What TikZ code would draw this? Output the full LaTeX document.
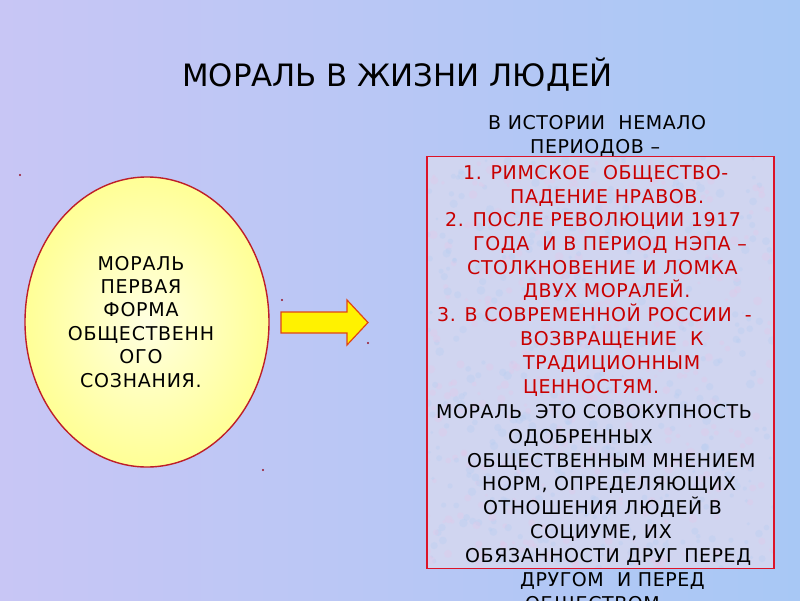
\documentclass[tikz,border=0pt]{standalone}
\usepackage{fontspec}
\setmainfont{DejaVu Sans}
\usetikzlibrary{shapes.geometric}
\definecolor{bgleft}{RGB}{200,198,245}
\definecolor{bgright}{RGB}{168,200,245}
\definecolor{boxfill}{RGB}{208,213,240}
\definecolor{spotpink}{RGB}{230,198,232}
\definecolor{spotblue}{RGB}{180,206,242}
\definecolor{boxred}{RGB}{220,20,40}
\definecolor{txtred}{RGB}{200,0,0}
\definecolor{ellred}{RGB}{190,30,40}
\definecolor{arrowedge}{RGB}{225,70,20}
\definecolor{dotred}{RGB}{150,20,40}
\tikzset{
  boxline/.style={anchor=base west, inner sep=0pt, font=\fontsize{19}{24}\selectfont\addfontfeature{LetterSpace=3}},
  redline/.style={boxline, text=txtred},
  blackline/.style={boxline, text=black},
  tinydot/.style={circle, fill=dotred, inner sep=0pt, minimum size=2.2pt},
  blockarrow/.style={draw=arrowedge, line width=1.2pt, fill=yellow, line join=miter},
}
\begin{document}
\begin{tikzpicture}[x=1pt,y=-1pt]
\useasboundingbox (0,0) rectangle (800,600);
\shade[left color=bgleft, right color=bgright] (0,0) rectangle (800,600);
% title
\node[anchor=base, inner sep=0pt, font=\fontsize{30.8}{36}\selectfont] (title) at (397.5,86) {МОРАЛЬ В ЖИЗНИ ЛЮДЕЙ};
% ellipse
\node[ellipse, draw=ellred, line width=1.4pt, inner color={rgb,255:red,255;green,255;blue,225}, outer color={rgb,255:red,255;green,255;blue,150}, minimum width=244, minimum height=290] (ell) at (147,322) {};
\node[anchor=base, inner sep=0pt, align=center, font=\fontsize{19}{23.4}\selectfont\addfontfeature{LetterSpace=4}] (elltext) at (141,387)
  {МОРАЛЬ\\ПЕРВАЯ\\ФОРМА\\ОБЩЕСТВЕНН\\ОГО\\СОЗНАНИЯ.};
% arrow
\draw[blockarrow] (281,312) -- (347,312) -- (347,300) -- (368,322.5) -- (347,345) -- (347,333) -- (281,333) -- cycle;
% box
\node[rectangle, fill=boxfill, minimum width=347, minimum height=412, inner sep=0pt] (boxbg) at (600.5,362.5) {};
\begin{scope}
\clip (boxbg.north west) rectangle (boxbg.south east);
\pgfmathsetseed{7}
\foreach \i in {1,...,900}{
  \pgfmathsetmacro{\px}{427+347*rnd}
  \pgfmathsetmacro{\py}{156+412*rnd}
  \pgfmathsetmacro{\pr}{1.5+3*rnd}
  \pgfmathsetmacro{\pc}{rnd}
  \ifdim\pc pt<0.5pt
    \fill[spotpink, opacity=0.3] (\px,\py) circle[radius=\pr];
  \else
    \fill[spotblue, opacity=0.3] (\px,\py) circle[radius=\pr];
  \fi
}
\end{scope}
\node[rectangle, draw=boxred, line width=1.4pt, minimum width=347, minimum height=412, inner sep=0pt] (box) at (boxbg.center) {};
% dots
\node[tinydot] (d1) at (20,175) {};
\node[tinydot] (d2) at (282,300) {};
\node[tinydot] (d3) at (368,343) {};
\node[tinydot] (d4) at (263,470) {};
% text
\node[blackline] (t1) at (488,129) {В ИСТОРИИ\ \ НЕМАЛО};
\node[blackline] (t2) at (530,153) {ПЕРИОДОВ –};
\node[redline] (r1) at (463,179) {1. РИМСКОЕ\ \ ОБЩЕСТВО-};
\node[redline] (r2) at (510,203) {ПАДЕНИЕ НРАВОВ.};
\node[redline] (r3) at (445,226) {2. ПОСЛЕ РЕВОЛЮЦИИ 1917};
\node[redline] (r4) at (473,250) {ГОДА\ \ И В ПЕРИОД НЭПА –};
\node[redline] (r5) at (467,274) {СТОЛКНОВЕНИЕ И ЛОМКА};
\node[redline] (r6) at (523,297) {ДВУХ МОРАЛЕЙ.};
\node[redline] (r7) at (437,321) {3. В СОВРЕМЕННОЙ РОССИИ\ \ -};
\node[redline] (r8) at (520,345) {ВОЗВРАЩЕНИЕ\ \ К};
\node[redline] (r9) at (523,369) {ТРАДИЦИОННЫМ};
\node[redline] (r10) at (523,393) {ЦЕННОСТЯМ.};
\node[blackline] (b1) at (436,418) {МОРАЛЬ\ \ ЭТО СОВОКУПНОСТЬ};
\node[blackline] (b2) at (508,443) {ОДОБРЕННЫХ};
\node[blackline] (b3) at (467,467) {ОБЩЕСТВЕННЫМ МНЕНИЕМ};
\node[blackline] (b4) at (482,490) {НОРМ, ОПРЕДЕЛЯЮЩИХ};
\node[blackline] (b5) at (483,514) {ОТНОШЕНИЯ ЛЮДЕЙ В};
\node[blackline] (b6) at (530,538) {СОЦИУМЕ, ИХ};
\node[blackline] (b7) at (465,562) {ОБЯЗАННОСТИ ДРУГ ПЕРЕД};
\node[blackline] (b8) at (520,586) {ДРУГОМ\ \ И ПЕРЕД};
\node[blackline] (b9) at (525,610) {ОБЩЕСТВОМ};
\end{tikzpicture}
\end{document}
